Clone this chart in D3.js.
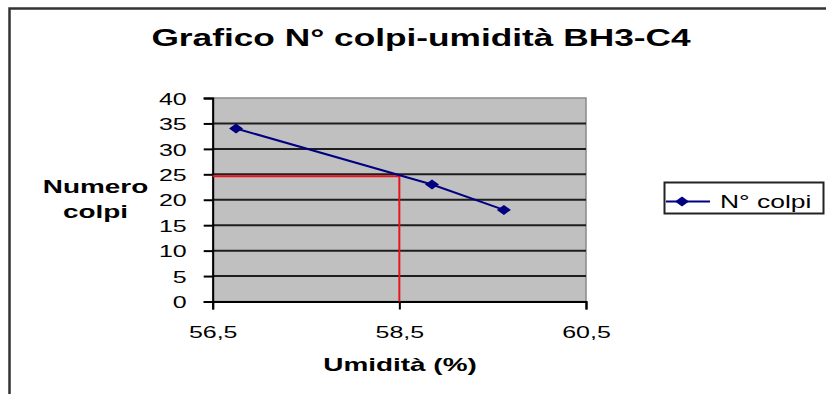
<!DOCTYPE html>
<html>
<head>
<meta charset="utf-8">
<script src="https://cdn.jsdelivr.net/npm/d3@7"></script>
<style>
  html, body { margin: 0; padding: 0; background: #fff; }
  svg { display: block; font-family: "Liberation Sans", Arial, sans-serif; }
</style>
</head>
<body>
<svg id="chart" width="826" height="394"></svg>
<script>
// Series: blow count vs. moisture content
const umidita = [56.75, 58.85, 59.62];
const colpi = [34, 23, 18];

// Reference reading at 25 blows
const refColpi = [24.6];
const refUmidita = [58.5];

// Axis ticks and labels
const xTicks = [56.5, 58.5, 60.5];
const xTickLabels = ["56,5", "58,5", "60,5"];
const yTicks = [0, 5, 10, 15, 20, 25, 30, 35, 40];

const titleText = "Grafico N° colpi-umidità BH3-C4";
const xTitle = "Umidità (%)";
const yTitleLines = ["Numero", "colpi"];
const legendLabel = "N° colpi";

const SX = 1.47; // horizontal text stretch of the sheet's rendering

const svg = d3.select("#chart");

const plot = { left: 212.7, right: 586, top: 98, bottom: 301.5 };

const x = d3.scaleLinear().domain([56.5, 60.5]).range([plot.left, plot.right]);
const y = d3.scaleLinear().domain([0, 40]).range([plot.bottom, plot.top]);

function label(sel, px, py, str, size, weight, anchor) {
  return sel.append("text")
    .attr("transform", `translate(${px},${py}) scale(${SX},1)`)
    .attr("text-anchor", anchor || "middle")
    .style("font-size", size + "px")
    .style("font-weight", weight || "normal")
    .attr("fill", "#000")
    .text(str);
}

// Chart frame
svg.append("rect")
  .attr("x", 9.5).attr("y", 8.5).attr("width", 840).attr("height", 400)
  .attr("fill", "#fff").attr("stroke", "#333").attr("stroke-width", 2.5);

// Title
label(svg, 421, 45.7, titleText, 24, "bold");

// Plot area
svg.append("rect")
  .attr("x", plot.left).attr("y", plot.top)
  .attr("width", plot.right - plot.left).attr("height", plot.bottom - plot.top)
  .attr("fill", "#c0c0c0").attr("stroke", "#8a8a8a").attr("stroke-width", 1.5);

// Horizontal gridlines
svg.append("g")
  .selectAll("line")
  .data(yTicks.filter(d => d > 0 && d < 40))
  .join("line")
  .attr("x1", plot.left).attr("x2", plot.right)
  .attr("y1", d => y(d)).attr("y2", d => y(d))
  .attr("stroke", "#1e1e1e").attr("stroke-width", 2);

// Y axis
const yAxis = svg.append("g")
  .attr("transform", `translate(${plot.left},0)`)
  .call(d3.axisLeft(y).tickValues(yTicks).tickSize(9).tickFormat(d3.format("d")));
yAxis.select(".domain").attr("stroke", "#000").attr("stroke-width", 2);
yAxis.selectAll(".tick line").attr("stroke", "#000").attr("stroke-width", 2);
yAxis.selectAll(".tick text")
  .attr("x", null).attr("dy", "0.36em")
  .attr("transform", `translate(-26,0) scale(${SX},1)`)
  .attr("text-anchor", "end")
  .attr("fill", "#000")
  .style("font-size", "17px")
  .style("font-family", "Liberation Sans, Arial, sans-serif");

// X axis
const xAxis = svg.append("g")
  .attr("transform", `translate(0,${plot.bottom})`)
  .call(d3.axisBottom(x).tickValues(xTicks).tickSize(8)
    .tickFormat((d, i) => xTickLabels[i]));
xAxis.select(".domain").attr("stroke", "#000").attr("stroke-width", 2);
xAxis.selectAll(".tick line").attr("stroke", "#000").attr("stroke-width", 2);
xAxis.selectAll(".tick text")
  .attr("y", null).attr("dy", null)
  .attr("transform", `translate(0,36.5) scale(${SX},1)`)
  .attr("text-anchor", "middle")
  .attr("fill", "#000")
  .style("font-size", "17px")
  .style("font-family", "Liberation Sans, Arial, sans-serif");

// Axis titles
label(svg, 400, 371, xTitle, 19, "bold");
label(svg, 95.5, 193.3, yTitleLines[0], 19, "bold");
label(svg, 95.5, 218.3, yTitleLines[1], 19, "bold");

// Reference lines at 25 blows
const refG = svg.append("g");
refG.append("path")
  .attr("d", d3.line()([
    [x.range()[0], y(refColpi[0])],
    [x(refUmidita[0]), y(refColpi[0])],
    [x(refUmidita[0]), y(0)]
  ]))
  .attr("fill", "none").attr("stroke", "#e8141e").attr("stroke-width", 2);

// Data series
const pts = umidita.map((u, i) => [x(u), y(colpi[i])]);
svg.append("path")
  .attr("d", d3.line()(pts))
  .attr("fill", "none").attr("stroke", "#000080").attr("stroke-width", 2);

const diamond = (cx, cy) => `M${cx - 7},${cy} L${cx},${cy - 5} L${cx + 7},${cy} L${cx},${cy + 5} Z`;
svg.append("g")
  .selectAll("path")
  .data(pts)
  .join("path")
  .attr("d", d => diamond(d[0], d[1]))
  .attr("fill", "#000080");

// Legend
const lg = svg.append("g");
lg.append("rect")
  .attr("x", 664.5).attr("y", 182.5).attr("width", 159).attr("height", 31)
  .attr("fill", "#fff").attr("stroke", "#222").attr("stroke-width", 2);
lg.append("line")
  .attr("x1", 666).attr("x2", 710).attr("y1", 201.5).attr("y2", 201.5)
  .attr("stroke", "#000080").attr("stroke-width", 2);
lg.append("path").attr("d", diamond(682, 201.5)).attr("fill", "#000080");
label(lg, 720, 207.5, legendLabel, 18, "normal", "start");
</script>
</body>
</html>
